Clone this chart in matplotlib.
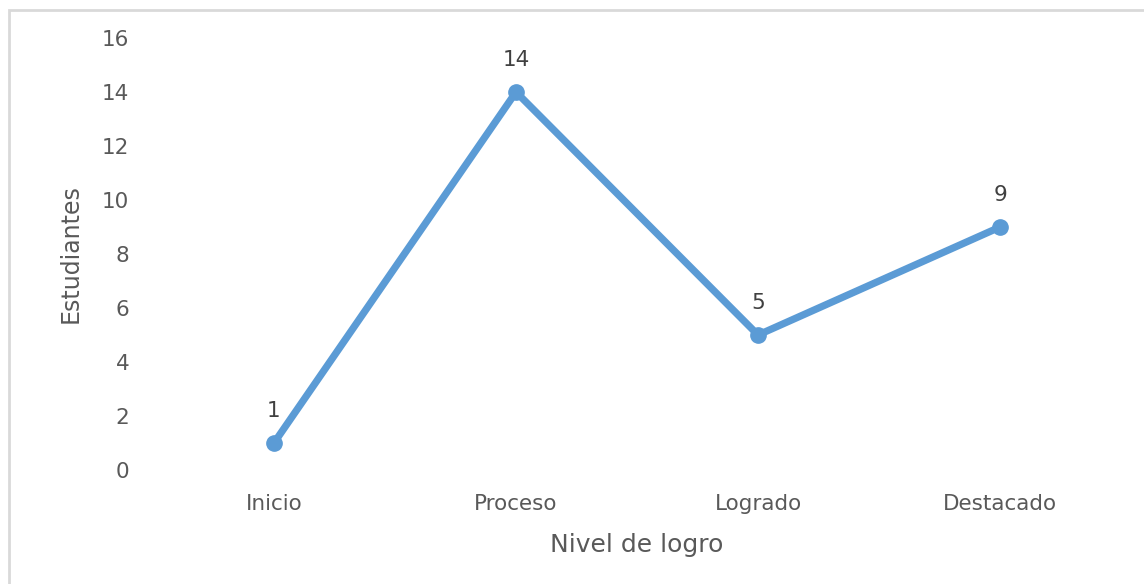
import matplotlib
matplotlib.use("Agg")
import matplotlib.pyplot as plt
from matplotlib.patches import Rectangle

categories = ["Inicio", "Proceso", "Logrado", "Destacado"]
values = [1, 14, 5, 9]
yticks = [0, 2, 4, 6, 8, 10, 12, 14, 16]

plt.rcParams['font.family'] = ['DejaVu Sans']
gray = "#595959"
blue = "#5B9BD5"

fig = plt.figure(figsize=(11.44, 5.84), dpi=100)
ax = fig.add_axes([0.1337, 0.1952, 0.8463, 0.7397])

x = list(range(len(categories)))
ax.plot(x, values, color=blue, linewidth=5.2, marker='o', markersize=11,
        solid_capstyle='round', zorder=3)
for xi, v in zip(x, values):
    ax.annotate(str(v), (xi, v), xytext=(0, 16), textcoords='offset points',
                ha='center', va='bottom', fontsize=15.5, color="#404040")

ax.set_xlim(-0.5, len(categories) - 0.5)
ax.set_ylim(0, 16)
ax.set_yticks(yticks)
ax.set_xticks(x)
ax.set_xticklabels(categories)
for s in ax.spines.values():
    s.set_visible(False)
ax.tick_params(axis='both', length=0, labelsize=15.5, labelcolor=gray)
ax.tick_params(axis='y', pad=17)
ax.tick_params(axis='x', pad=17)
ax.set_xlabel("Nivel de logro", fontsize=18, color=gray, labelpad=14)
ax.set_ylabel("Estudiantes", fontsize=17, color=gray, labelpad=14)

fig.patches.append(Rectangle((9 / 1144, -0.1), 1.2, 1 - 10 / 584 + 0.1,
                             transform=fig.transFigure, fill=False,
                             edgecolor="#D9D9D9", linewidth=2))

fig.savefig("out.png", dpi=100)
